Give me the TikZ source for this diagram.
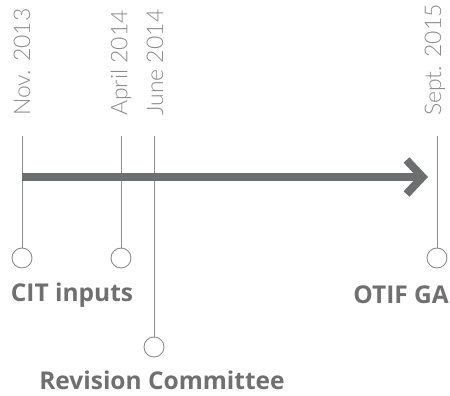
\documentclass[tikz,border=0pt]{standalone}
\usepackage{fontspec}
\setmainfont{Open Sans}
\newfontfamily\datefont{Lato Light}
\usetikzlibrary{arrows.meta}
\definecolor{linegray}{HTML}{8C8C8C}
\definecolor{bargray}{HTML}{6D6E70}
\definecolor{textgray}{HTML}{707070}
\begin{document}
\begin{tikzpicture}[x=1pt, y=-1pt,
    dot/.style={circle, draw=linegray, fill=white, line width=0.9pt, minimum size=20pt, inner sep=0pt},
    date/.style={rotate=90, anchor=west, inner sep=0pt, text=linegray, font=\datefont\fontsize{23}{23}\selectfont},
    label/.style={inner sep=0pt, text=textgray, font=\bfseries\fontsize{24.5}{24.5}\selectfont},
    tick/.style={draw=linegray, line width=0.9pt}]

        \useasboundingbox (0,0) rectangle (450,396);

        \coordinate (T1) at (22,136);
        \coordinate (T2) at (121,136);
        \coordinate (T3) at (154,136);
        \coordinate (T4) at (437,136);
        \coordinate (S) at (22,177);
        \coordinate (E) at (428,177);

        \node[dot] (C1) at (22,258) {};
        \node[dot] (C2) at (121,258) {};
        \node[dot] (C3) at (154,347) {};
        \node[dot] (C4) at (437,258) {};

        \node[date] (D1) at (22,116) {Nov. 2013};
        \node[date] (D2) at (121,116) {April 2014};
        \node[date] (D3) at (155,116) {June 2014};
        \node[date] (D4) at (435,116) {Sept. 2015};

        \node[label] (L1) at (72,295) {CIT inputs};
        \node[label, anchor=east] (L2) at (449,295) {OTIF GA};
        \node[label] (L3) at (162,380) {Revision Committee};

        \draw[tick] (T1) to (C1);
        \draw[tick] (T2) to (C2);
        \draw[tick] (T3) to (C3);
        \draw[tick] (T4) to (C4);

        \draw[bargray, line width=8pt, -{Straight Barb[length=16pt, width=34pt]}] (S) to (E);

\end{tikzpicture}
\end{document}
